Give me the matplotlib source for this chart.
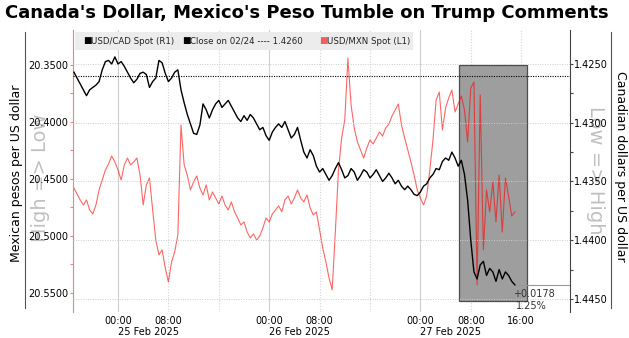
import matplotlib
matplotlib.use("Agg")
import numpy as np
import pandas as pd
import matplotlib.pyplot as plt
import matplotlib.transforms as mtransforms
import matplotlib.dates as mdates
from matplotlib.patches import Rectangle
from matplotlib.lines import Line2D

# half-hourly closes, 24 Feb 17:00 -> 27 Feb 15:00
times = pd.date_range("2025-02-24 17:00", "2025-02-27 15:00", freq="30min")

usdcad = [
    1.4257, 1.4262, 1.4267, 1.4272, 1.4277, 1.4272, 1.4270, 1.4268, 1.4265, 1.4255,
    1.4248, 1.4247, 1.4250, 1.4244, 1.4250, 1.4248, 1.4252, 1.4257, 1.4262, 1.4266,
    1.4263, 1.4258, 1.4257, 1.4259, 1.4270, 1.4265, 1.4262, 1.4247, 1.4249, 1.4258,
    1.4265, 1.4262, 1.4257, 1.4255, 1.4272, 1.4283, 1.4293, 1.4301, 1.4309, 1.4310,
    1.4302, 1.4284, 1.4289, 1.4296, 1.4289, 1.4284, 1.4281, 1.4287, 1.4284, 1.4281,
    1.4286, 1.4291, 1.4296, 1.4299, 1.4294, 1.4298, 1.4293, 1.4296, 1.4301, 1.4306,
    1.4304, 1.4311, 1.4315, 1.4308, 1.4304, 1.4301, 1.4304, 1.4299, 1.4306, 1.4313,
    1.4310, 1.4304, 1.4315, 1.4325, 1.4330, 1.4323, 1.4328, 1.4337, 1.4342, 1.4339,
    1.4344, 1.4349, 1.4345, 1.4339, 1.4334, 1.4340, 1.4347, 1.4345, 1.4339, 1.4342,
    1.4349, 1.4345, 1.4340, 1.4342, 1.4347, 1.4344, 1.4340, 1.4345, 1.4350, 1.4347,
    1.4343, 1.4347, 1.4352, 1.4349, 1.4354, 1.4357, 1.4354, 1.4357, 1.4361, 1.4362,
    1.4359, 1.4354, 1.4352, 1.4347, 1.4344, 1.4339, 1.4340, 1.4333, 1.4330, 1.4332,
    1.4325, 1.4330, 1.4337, 1.4332, 1.4344, 1.4366, 1.4400, 1.4427, 1.4433, 1.4421,
    1.4418, 1.4430, 1.4424, 1.4427, 1.4435, 1.4425, 1.4433, 1.4427, 1.4430, 1.4435,
    1.4438,
]

usdmxn = [
    20.4579, 20.4631, 20.4684, 20.4728, 20.4684, 20.4772, 20.4807, 20.4728, 20.4596, 20.4509,
    20.4421, 20.4368, 20.4298, 20.4351, 20.4421, 20.4509, 20.4377, 20.4316, 20.4377, 20.4351,
    20.4316, 20.4465, 20.4728, 20.4552, 20.4491, 20.4772, 20.5035, 20.5166, 20.5122, 20.5280,
    20.5403, 20.5228, 20.5140, 20.4991, 20.4026, 20.4377, 20.4465, 20.4596, 20.4526, 20.4473,
    20.4579, 20.4640, 20.4552, 20.4684, 20.4614, 20.4666, 20.4719, 20.4649, 20.4728, 20.4772,
    20.4701, 20.4789, 20.4842, 20.4903, 20.4877, 20.4965, 20.5017, 20.4982, 20.5035, 20.5000,
    20.4930, 20.4842, 20.4877, 20.4807, 20.4772, 20.4737, 20.4789, 20.4684, 20.4649, 20.4719,
    20.4666, 20.4596, 20.4666, 20.4701, 20.4640, 20.4754, 20.4816, 20.4789, 20.4947, 20.5105,
    20.5228, 20.5368, 20.5473, 20.4965, 20.4421, 20.4140, 20.3982, 20.3439, 20.3851, 20.4053,
    20.4175, 20.4245, 20.4316, 20.4228, 20.4158, 20.4193, 20.4140, 20.4088, 20.4123, 20.4053,
    20.4017, 20.3947, 20.3895, 20.3842, 20.4026, 20.4140, 20.4245, 20.4351, 20.4465, 20.4596,
    20.4666, 20.4728, 20.4649, 20.4421, 20.4158, 20.3807, 20.3737, 20.4070, 20.3877, 20.3789,
    20.3719, 20.3912, 20.3842, 20.3772, 20.3895, 20.4175, 20.3702, 20.3649, 20.5429, 20.3763,
    20.5122, 20.4596, 20.4789, 20.4526, 20.4877, 20.4465, 20.4965, 20.4491, 20.4649, 20.4825,
    20.4789,
]

close_0224 = 1.4260
cad_ticks = [1.4250, 1.4300, 1.4350, 1.4400, 1.4450]
mxn_ticks = [20.35, 20.40, 20.45, 20.50, 20.55]
highlight_start = pd.Timestamp("2025-02-27 06:10")
highlight_end = pd.Timestamp("2025-02-27 16:55")
highlight_lo, highlight_hi = 1.4251, 1.4452

W, H = 629, 338
fig = plt.figure(figsize=(W / 100, H / 100), dpi=100)
ax = fig.add_axes([72.7 / W, 1 - 312 / H, (570 - 72.7) / W, (312 - 30) / H])
ax2 = ax.twinx()

day0 = pd.Timestamp("2025-02-25")
x_start = day0 - pd.Timedelta(hours=7.19)
x_end = day0 + pd.Timedelta(hours=71.75)
ax.set_xlim(x_start, x_end)
ax.set_ylim(20.5667, 20.3193)
ax2.set_ylim(1.44611, 1.42211)

# vertical grid: solid at midnight, dotted every 8 hours
for h in range(-8, 72, 8):
    t = day0 + pd.Timedelta(hours=h)
    if h % 24 == 0:
        ax.axvline(t, color="#cfcfcf", lw=0.8, zorder=0)
    else:
        ax.axvline(t, color="#d5d5d5", lw=0.8, ls=(0, (1, 1.5)), zorder=0)

# shaded window around the comments
blend = mtransforms.blended_transform_factory(ax.transData, ax2.transData)
x_a = mdates.date2num(highlight_start)
x_b = mdates.date2num(highlight_end)
ax.add_patch(Rectangle((x_a, highlight_lo), x_b - x_a, highlight_hi - highlight_lo,
                       transform=blend, facecolor="#9e9e9e", edgecolor="#4d4d4d",
                       lw=0.9, zorder=1))

ax.plot(times, usdmxn, color="red", alpha=0.6, lw=0.8, zorder=2)
ax2.plot(times, usdcad, color="black", lw=1.0, zorder=3)
ax2.axhline(close_0224, color="black", lw=0.8, ls=(0, (1, 1.2)), zorder=2)

# change since 02/24 close
last = usdcad[-1]
ax2.plot([times[-1], x_end], [last, last], color="#999999", lw=0.8, zorder=2)
chg = last - close_0224
ax2.annotate(f"+{chg:.4f}", xy=(times[-1], last), xytext=(-1, -6.5),
             textcoords="offset points", fontsize=7, color="#333333",
             ha="left", va="center")
ax2.annotate(f"{chg / close_0224 * 100:.2f}%", xy=(times[-1], last), xytext=(1, -15.5),
             textcoords="offset points", fontsize=7, color="#333333",
             ha="left", va="center")

ax2.grid(axis="y", color="#cccccc", lw=0.7, ls=(0, (1, 1.5)), zorder=0)
ax2.set_axisbelow(True)

ax.set_yticks(mxn_ticks)
ax.set_yticklabels([f"{v:.4f}" for v in mxn_ticks])
ax.set_yticks([v + 0.025 for v in mxn_ticks[:-1]], minor=True)
ax2.set_yticks(cad_ticks)
ax2.set_yticklabels([f"{v:.4f}" for v in cad_ticks])
ax2.set_yticks([v + 0.0025 for v in cad_ticks[:-1]], minor=True)

ax.tick_params(axis="y", which="both", colors="#f08080", labelcolor="black",
               direction="out", length=2.5, width=0.8, labelsize=7, pad=0.5)
ax2.tick_params(axis="y", which="both", colors="#444444", labelcolor="black",
                direction="out", length=2.5, width=0.8, labelsize=7, pad=0.5)

xt = [day0 + pd.Timedelta(hours=h) for h in (0, 8, 24, 32, 48, 56, 64)]
ax.set_xticks(xt)
ax.set_xticklabels(["00:00", "08:00", "00:00", "08:00", "00:00", "08:00", "16:00"])
ax.tick_params(axis="x", length=0, labelsize=7, pad=3)
ax2.tick_params(axis="x", length=0)
for d in range(3):
    t = day0 + pd.Timedelta(days=d)
    ax.text(t, -0.071, t.strftime("%d Feb %Y"), transform=ax.get_xaxis_transform(),
            fontsize=7, ha="left", va="center")

for a in (ax, ax2):
    for s in ("top", "bottom"):
        a.spines[s].set_visible(False)
ax.spines["right"].set_visible(False)
ax.spines["left"].set_color("#f08080")
ax.spines["left"].set_linewidth(0.8)
ax2.spines["left"].set_visible(False)
ax2.spines["right"].set_color("#444444")
ax2.spines["right"].set_linewidth(0.8)

# title, axis captions and side rules
fig.text(5 / W, 1 - 4 / H, "Canada's Dollar, Mexico's Peso Tumble on Trump Comments",
         fontsize=13, fontweight="bold", ha="left", va="top")
fig.text(17 / W, 1 - 173 / H, "Mexican pesos per US dollar", rotation=90,
         fontsize=9, ha="center", va="center")
fig.text(620 / W, 1 - 166 / H, "Canadian dollars per US dollar", rotation=270,
         fontsize=9, ha="center", va="center")
fig.add_artist(Line2D([25 / W, 25 / W], [1 - 32 / H, 1 - 308 / H], color="#555555", lw=0.8))
fig.add_artist(Line2D([611 / W, 611 / W], [1 - 32 / H, 1 - 308 / H], color="#555555", lw=0.8))
fig.text(40 / W, 1 - 178 / H, "High => Low", rotation=90, fontsize=14,
         color="#c0c0c0", ha="center", va="center", zorder=-1)
fig.text(595 / W, 1 - 170 / H, "Low => High", rotation=270, fontsize=14,
         color="#c0c0c0", ha="center", va="center", zorder=-1)

# legend strip
fig.add_artist(Rectangle((75 / W, 1 - 50 / H), (413 - 75) / W, 18 / H,
                         transform=fig.transFigure, facecolor="#ececec",
                         edgecolor="none", zorder=4))
ly = 1 - 41 / H
for xs, xt_, col, lab in [(83, 91, "black", "USD/CAD Spot (R1)"),
                          (182, 190, "black", "Close on 02/24 ---- 1.4260"),
                          (319, 327, "#f06060", "USD/MXN Spot (L1)")]:
    fig.text(xs / W, ly, "\u25a0", color=col, fontsize=6.5, ha="left", va="center", zorder=5)
    fig.text(xt_ / W, ly, lab, color="#222222", fontsize=6.2, ha="left", va="center", zorder=5)

fig.savefig("out.png", dpi=100)
